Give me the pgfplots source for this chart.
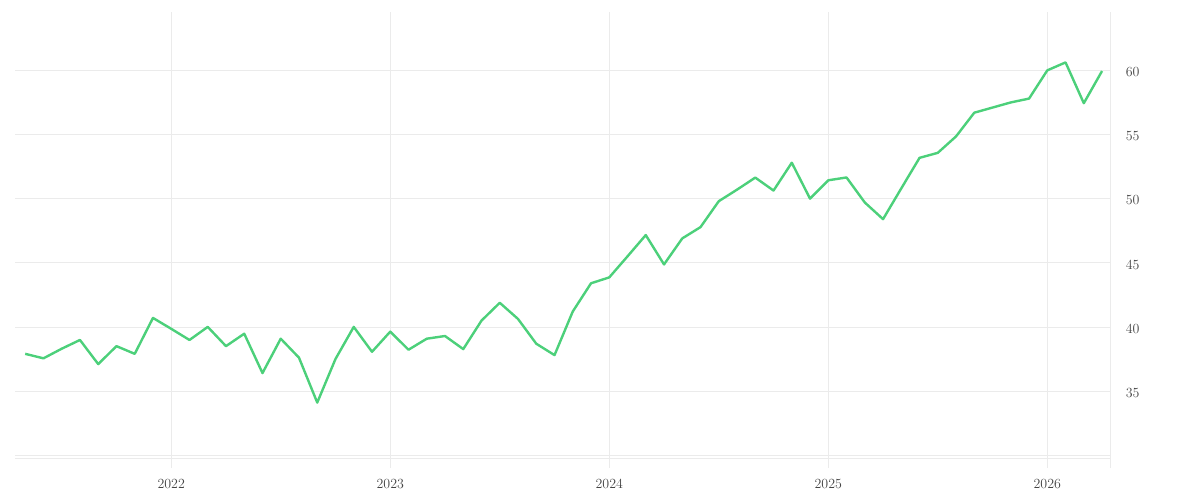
\documentclass[border=0pt]{standalone}
\usepackage{pgfplots}
\pgfplotsset{compat=1.18}
\definecolor{linegreen}{HTML}{4CD07A}
\definecolor{gridgray}{HTML}{EBEBEB}
\definecolor{labelgray}{HTML}{444444}
\begin{document}
\begin{tikzpicture}
\useasboundingbox (0,0) rectangle (1200bp,500bp);
\begin{axis}[
  at={(15bp,32bp)}, anchor=south west,
  scale only axis,
  width=1095.3bp, height=456bp,
  xmin=-0.56, xmax=59.45,
  ymin=29.0, ymax=64.55,
  axis line style={draw=none},
  tick style={draw=none},
  xtick={8,20,32,44,56},
  xticklabels={2022,2023,2024,2025,2026},
  extra x ticks={59.45},
  extra x tick labels={},
  ytick={30,35,40,45,50,55,60},
  yticklabels={{},35,40,45,50,55,60},
  extra y ticks={29.76},
  extra y tick labels={},
  yticklabel pos=right,
  grid=major,
  major grid style={draw=gridgray, line width=0.8bp},
  extra tick style={grid=major, major grid style={draw=gridgray, line width=0.8bp}},
  ticklabel style={font=\fontsize{14}{16}\selectfont, text=labelgray},
  yticklabel style={anchor=west, xshift=12bp, yshift=-1.7bp},
  xticklabel style={yshift=-8bp},
  clip=false,
]
\addplot[linegreen, line width=2.4bp, line join=round] table {
x y
0 37.9
1 37.55
2 38.3
3 38.98
4 37.1
5 38.5
6 37.9
7 40.7
8 39.85
9 38.98
10 40.0
11 38.5
12 39.47
13 36.4
14 39.08
15 37.6
16 34.1
17 37.5
18 40.0
19 38.06
20 39.63
21 38.22
22 39.08
23 39.29
24 38.27
25 40.49
26 41.88
27 40.62
28 38.69
29 37.8
30 41.2
31 43.4
32 43.86
33 45.5
34 47.16
35 44.87
36 46.9
37 47.78
38 49.8
39 50.7
40 51.64
41 50.63
42 52.8
43 50.0
44 51.43
45 51.65
46 49.7
47 48.4
48 50.8
49 53.18
50 53.57
51 54.85
52 56.7
53 57.1
54 57.5
55 57.8
56 60.0
57 60.62
58 57.44
59 59.95
};
\end{axis}
\end{tikzpicture}
\end{document}
